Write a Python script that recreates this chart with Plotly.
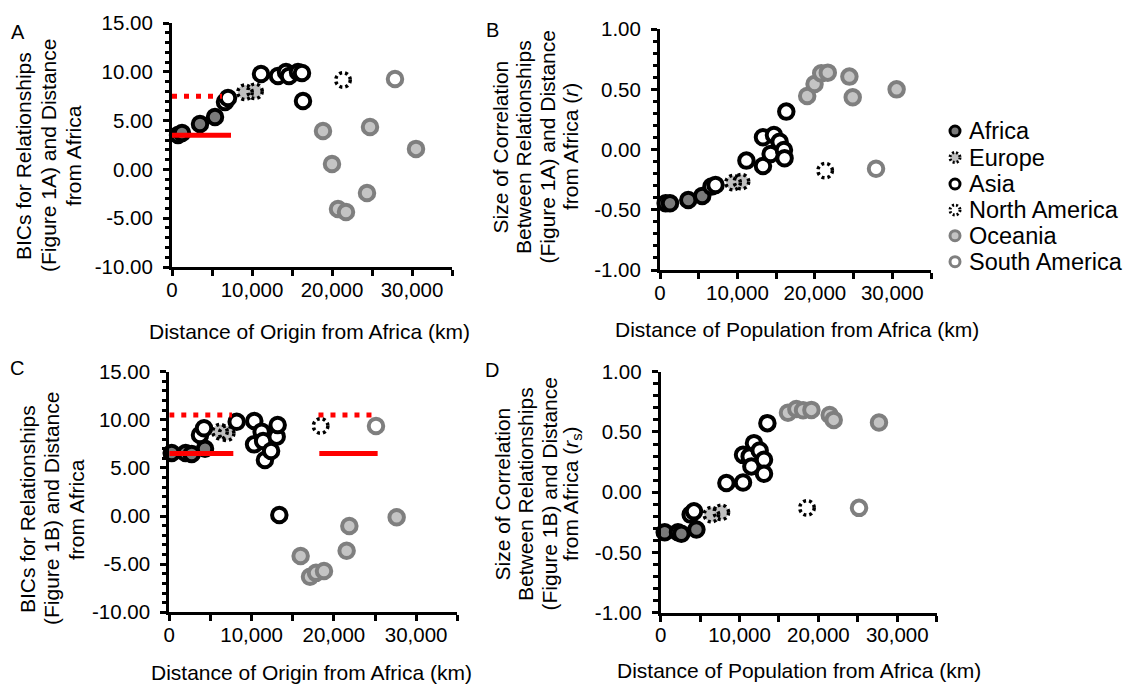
import plotly.graph_objects as go

W, H = 1126, 684
FONT = "Arial, Liberation Sans, sans-serif"

# ---------------- data ----------------
regions = ["Africa", "Europe", "Asia", "North America", "Oceania", "South America"]

# Panel A: BICs (Figure 1A) vs distance of origin
A_africa_x = [750, 1250, 3500, 5375]
A_africa_y = [3.52, 3.73, 4.65, 5.37]
A_europe_x = [9125, 10375]
A_europe_y = [7.9, 8.0]
A_asia_x = [6625, 7000, 11125, 13250, 14250, 14625, 15750, 16250, 16375]
A_asia_y = [6.9, 7.32, 9.77, 9.57, 9.98, 9.57, 9.98, 9.88, 7.0]
A_namerica_x = [21375]
A_namerica_y = [9.16]
A_oceania_x = [18875, 20000, 20750, 21750, 24375, 24750, 30500]
A_oceania_y = [3.93, 0.55, -4.06, -4.36, -2.42, 4.34, 2.1]
A_samerica_x = [27875]
A_samerica_y = [9.26]
A_solid_x = [0, 7375]
A_solid_y = [3.5, 3.5]
A_dot_x = [0, 6250]
A_dot_y = [7.5, 7.5]

# Panel B: correlation r (Figure 1A) vs distance of population
B_africa_x = [730, 1290, 3650, 5450]
B_africa_y = [-0.446, -0.446, -0.418, -0.385]
B_europe_x = [9440, 10520]
B_europe_y = [-0.274, -0.266]
B_asia_x = [6650, 7170, 11160, 13300, 13300, 14720, 14290, 15450, 16010, 16090, 16310]
B_asia_y = [-0.307, -0.294, -0.091, -0.136, 0.103, 0.122, -0.036, 0.066, -0.003, -0.072, 0.316]
B_namerica_x = [21330]
B_namerica_y = [-0.174]
B_oceania_x = [19010, 19960, 20820, 21670, 24460, 24890, 30560]
B_oceania_y = [0.446, 0.546, 0.634, 0.64, 0.607, 0.435, 0.501]
B_samerica_x = [27900]
B_samerica_y = [-0.158]

# Panel C: BICs (Figure 1B) vs distance of origin
C_africa_x = [290, 1990, 2720, 4340]
C_africa_y = [6.55, 6.55, 6.45, 7.0]
C_europe_x = [6160, 6970]
C_europe_y = [8.77, 8.6]
C_asia_x = [3730, 4220, 8190, 10330, 10300, 11220, 11400, 11620, 12370, 13050, 13170, 13370]
C_asia_y = [8.42, 9.12, 9.8, 9.88, 7.45, 8.77, 7.8, 5.82, 6.76, 8.25, 9.46, 0.11]
C_namerica_x = [18390]
C_namerica_y = [9.36]
C_oceania_x = [15960, 17100, 17830, 18800, 21550, 21880, 27630]
C_oceania_y = [-4.15, -6.3, -5.9, -5.7, -3.6, -1.03, -0.13]
C_samerica_x = [25120]
C_samerica_y = [9.36]
C_solid_x = [0, 7780, None, 18230, 25320]
C_solid_y = [6.5, 6.5, None, 6.5, 6.5]
C_dot_x = [0, 7620, None, 18130, 24600]
C_dot_y = [10.5, 10.5, None, 10.5, 10.5]

# Panel D: correlation r_s (Figure 1B) vs distance of population
D_africa_x = [510, 2190, 2620, 4530]
D_africa_y = [-0.333, -0.333, -0.345, -0.31]
D_europe_x = [6430, 7690]
D_europe_y = [-0.186, -0.167]
D_asia_x = [3800, 4220, 8330, 10440, 10440, 11280, 11500, 11830, 12550, 13100, 13100, 13530]
D_asia_y = [-0.186, -0.159, 0.076, 0.081, 0.31, 0.297, 0.214, 0.407, 0.346, 0.269, 0.153, 0.573]
D_namerica_x = [18550]
D_namerica_y = [-0.13]
D_oceania_x = [16140, 17200, 18050, 19110, 21430, 21940, 27680]
D_oceania_y = [0.66, 0.69, 0.68, 0.683, 0.64, 0.6, 0.578]
D_samerica_x = [25150]
D_samerica_y = [-0.13]

# ticks
x_tickvals = [0, 10000, 20000, 30000]
x_ticktext = ["0", "10,000", "20,000", "30,000"]
bic_tickvals = [-10, -5, 0, 5, 10, 15]
bic_ticktext = ["-10.00", "-5.00", "0.00", "5.00", "10.00", "15.00"]
r_tickvals = [-1, -0.5, 0, 0.5, 1]
r_ticktext = ["-1.00", "-0.50", "0.00", "0.50", "1.00"]

# ---------------- styles ----------------
STY = {
    "Africa": dict(fill="#7a7a7a", line="#000000", dotted=False),
    "Europe": dict(fill="#bfbfbf", line="#000000", dotted=True),
    "Asia": dict(fill="#ffffff", line="#000000", dotted=False),
    "North America": dict(fill="#ffffff", line="#000000", dotted=True),
    "Oceania": dict(fill="#c4c4c4", line="#7f7f7f", dotted=False),
    "South America": dict(fill="#ffffff", line="#7f7f7f", dotted=False),
}
MSIZE = 14.5
MLINE = 4


def px(x):
    return x / W


def py(y):
    return 1 - y / H


fig = go.Figure()
shapes = []
annotations = []

panels = [
    ("x", "y", {
        "Africa": (A_africa_x, A_africa_y), "Europe": (A_europe_x, A_europe_y),
        "Asia": (A_asia_x, A_asia_y), "North America": (A_namerica_x, A_namerica_y),
        "Oceania": (A_oceania_x, A_oceania_y), "South America": (A_samerica_x, A_samerica_y)},
     (A_solid_x, A_solid_y), (A_dot_x, A_dot_y)),
    ("x2", "y2", {
        "Africa": (B_africa_x, B_africa_y), "Europe": (B_europe_x, B_europe_y),
        "Asia": (B_asia_x, B_asia_y), "North America": (B_namerica_x, B_namerica_y),
        "Oceania": (B_oceania_x, B_oceania_y), "South America": (B_samerica_x, B_samerica_y)},
     None, None),
    ("x3", "y3", {
        "Africa": (C_africa_x, C_africa_y), "Europe": (C_europe_x, C_europe_y),
        "Asia": (C_asia_x, C_asia_y), "North America": (C_namerica_x, C_namerica_y),
        "Oceania": (C_oceania_x, C_oceania_y), "South America": (C_samerica_x, C_samerica_y)},
     (C_solid_x, C_solid_y), (C_dot_x, C_dot_y)),
    ("x4", "y4", {
        "Africa": (D_africa_x, D_africa_y), "Europe": (D_europe_x, D_europe_y),
        "Asia": (D_asia_x, D_asia_y), "North America": (D_namerica_x, D_namerica_y),
        "Oceania": (D_oceania_x, D_oceania_y), "South America": (D_samerica_x, D_samerica_y)},
     None, None),
]

for xa, ya, data, solid, dot in panels:
    for reg in regions:
        xs, ys = data[reg]
        s = STY[reg]
        fig.add_trace(go.Scatter(
            x=xs, y=ys, mode="markers", xaxis=xa, yaxis=ya, name=reg,
            showlegend=False, cliponaxis=False, hoverinfo="skip",
            marker=dict(size=MSIZE, color=s["fill"],
                        line=dict(color=s["line"], width=0 if s["dotted"] else MLINE)),
        ))
        if s["dotted"]:
            for xv, yv in zip(xs, ys):
                shapes.append(dict(
                    type="circle", xref=xa, yref=ya, xsizemode="pixel", ysizemode="pixel",
                    xanchor=xv, yanchor=yv, x0=-MSIZE / 2, x1=MSIZE / 2,
                    y0=-MSIZE / 2, y1=MSIZE / 2,
                    line=dict(color="#000000", width=3.5, dash="3px,3px"),
                    fillcolor="rgba(0,0,0,0)", layer="above"))
    if solid is not None:
        fig.add_trace(go.Scatter(
            x=solid[0], y=solid[1], mode="lines", xaxis=xa, yaxis=ya, showlegend=False,
            cliponaxis=False, hoverinfo="skip", connectgaps=False,
            line=dict(color="#ff0000", width=5)))
        fig.add_trace(go.Scatter(
            x=dot[0], y=dot[1], mode="lines", xaxis=xa, yaxis=ya, showlegend=False,
            cliponaxis=False, hoverinfo="skip", connectgaps=False,
            line=dict(color="#ff0000", width=5, dash="5px,7px")))

# ---------------- axes ----------------
doms = {
    "A": ((172, 452), (23, 267)),
    "B": ((660, 931), (29.3, 270)),
    "C": ((169.3, 457.3), (371.7, 612.3)),
    "D": ((660.7, 936.7), (371.7, 612.7)),
}


def xaxis_cfg(dom):
    return dict(
        domain=[px(dom[0]), px(dom[1])], range=[0, 35000], showline=True, linecolor="black",
        linewidth=3, ticks="outside", ticklen=6, tickwidth=2.5, tickcolor="black",
        tickmode="array", tickvals=x_tickvals, ticktext=x_ticktext,
        minor=dict(dtick=5000, tick0=0, ticks="outside", ticklen=6, tickwidth=2.5,
                   tickcolor="black", showgrid=False),
        showgrid=False, zeroline=False, tickfont=dict(family=FONT, size=20.5, color="black"),
        ticklabelstandoff=-4, automargin=False, fixedrange=True)


def yaxis_cfg(dom, rng, tv, tt, mdt):
    return dict(
        domain=[py(dom[1]), py(dom[0])], range=rng, showline=True, linecolor="black",
        linewidth=3, ticks="outside", ticklen=6, tickwidth=2.5, tickcolor="black",
        tickmode="array", tickvals=tv, ticktext=tt,
        minor=dict(dtick=mdt, tick0=0, ticks="outside", ticklen=4.5, tickwidth=2.5,
                   tickcolor="black", showgrid=False),
        showgrid=False, zeroline=False, tickfont=dict(family=FONT, size=20.5, color="black"),
        ticklabelstandoff=6, automargin=False, fixedrange=True)


fig.update_layout(
    xaxis=dict(xaxis_cfg(doms["A"][0]), anchor="y"),
    yaxis=dict(yaxis_cfg(doms["A"][1], [-10, 15], bic_tickvals, bic_ticktext, 1), anchor="x"),
    xaxis2=dict(xaxis_cfg(doms["B"][0]), anchor="y2"),
    yaxis2=dict(yaxis_cfg(doms["B"][1], [-1, 1], r_tickvals, r_ticktext, 0.1), anchor="x2"),
    xaxis3=dict(xaxis_cfg(doms["C"][0]), anchor="y3"),
    yaxis3=dict(yaxis_cfg(doms["C"][1], [-10, 15], bic_tickvals, bic_ticktext, 1), anchor="x3"),
    xaxis4=dict(xaxis_cfg(doms["D"][0]), anchor="y4"),
    yaxis4=dict(yaxis_cfg(doms["D"][1], [-1, 1], r_tickvals, r_ticktext, 0.1), anchor="x4"),
)

# ---------------- text ----------------
def ann(text, x, y, size, angle=0, xanchor="center", yanchor="middle"):
    annotations.append(dict(
        text=text, x=px(x), y=py(y), xref="paper", yref="paper", showarrow=False,
        textangle=angle, xanchor=xanchor, yanchor=yanchor,
        font=dict(family=FONT, size=size, color="black")))


# panel letters
ann("A", 18, 32, 20)
ann("B", 492, 30, 20)
ann("C", 17, 368, 20)
ann("D", 492, 370, 20)

# y titles (one annotation per line)
for txt, xx in zip(["BICs for Relationships", "(Figure 1A) and Distance", "from Africa"], [23, 48, 73]):
    ann(txt, xx, 156, 21, angle=-90)
for txt, xx in zip(["BICs for Relationships", "(Figure 1B) and Distance", "from Africa"], [28, 52, 77]):
    ann(txt, xx, 509, 21, angle=-90)
for txt, xx in zip(["Size of Correlation", "Between Relationships", "(Figure 1A) and Distance",
                    "from Africa (<i>r</i>)"], [499.5, 523, 546.5, 570]):
    ann(txt, xx, 147, 21, angle=-90)
for txt, xx in zip(["Size of Correlation", "Between Relationships", "(Figure 1B) and Distance",
                    "from Africa (<i>r</i><sub>s</sub>)"], [501.5, 525, 548.5, 572]):
    ann(txt, xx, 494, 21, angle=-90)

# x titles
ann("Distance of Origin from Africa (km)", 309, 331, 21)
ann("Distance of Population from Africa (km)", 797, 329, 21)
ann("Distance of Origin from Africa (km)", 311, 672, 21)
ann("Distance of Population from Africa (km)", 799, 670, 21)

# manual legend
leg_y = [131, 157.5, 184, 210, 235.7, 261.7]
for reg, yy in zip(regions, leg_y):
    s = STY[reg]
    shapes.append(dict(
        type="circle", xref="paper", yref="paper", xsizemode="pixel", ysizemode="pixel",
        xanchor=px(955), yanchor=py(yy), x0=-5, x1=5, y0=-5, y1=5,
        fillcolor=s["fill"],
        line=dict(color=s["line"], width=3, dash="2px,2px" if s["dotted"] else "solid")))
    ann(reg, 967, yy, 23.5, xanchor="left")

fig.update_layout(
    width=W, height=H, autosize=False,
    margin=dict(l=0, r=0, t=0, b=0, pad=0, autoexpand=False),
    paper_bgcolor="white", plot_bgcolor="white",
    showlegend=False, shapes=shapes, annotations=annotations,
)

fig.write_html("out.html", config={"displayModeBar": False})
